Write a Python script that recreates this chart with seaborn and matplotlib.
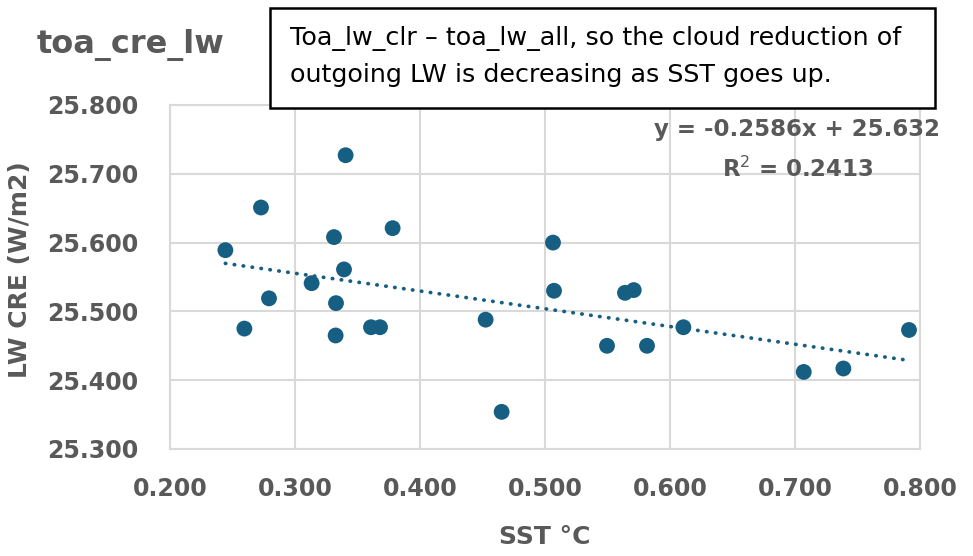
import numpy as np
import pandas as pd
import matplotlib
matplotlib.use("Agg")
import matplotlib.pyplot as plt
from matplotlib.patches import Rectangle
import seaborn as sns

# values
sst = [0.2443, 0.2595, 0.2728, 0.2792, 0.3133, 0.3312, 0.3325, 0.3328, 0.3392,
       0.3405, 0.3608, 0.3680, 0.3781, 0.4525, 0.4653, 0.5064, 0.5072, 0.5496,
       0.5640, 0.5710, 0.5816, 0.6107, 0.7070, 0.7387, 0.7912]
lw_cre = [25.589, 25.475, 25.651, 25.519, 25.541, 25.608, 25.465, 25.512, 25.561,
          25.727, 25.477, 25.477, 25.621, 25.488, 25.354, 25.600, 25.530, 25.450,
          25.527, 25.531, 25.450, 25.477, 25.412, 25.417, 25.473]
x_ticks = [0.2, 0.3, 0.4, 0.5, 0.6, 0.7, 0.8]
y_ticks = [25.3, 25.4, 25.5, 25.6, 25.7, 25.8]

df = pd.DataFrame({"sst": sst, "lw_cre": lw_cre})

sns.set_style("white")
plt.rcParams['font.family'] = ['DejaVu Sans']

gray = "#595959"
blue = "#175f82"

fig = plt.figure(figsize=(9.73, 5.56), dpi=100)
ax = fig.add_axes([170/973, 1 - 449/556, 750/973, 344/556])

sns.regplot(data=df, x="sst", y="lw_cre", ax=ax, ci=None,
            scatter_kws=dict(s=130, color=blue, edgecolor="none", alpha=1, zorder=3),
            line_kws=dict(color=blue, linestyle=(0, (0.1, 2.3)), linewidth=2.7,
                          dash_capstyle="round", zorder=2))

ax.set_xlim(0.2, 0.8)
ax.set_ylim(25.3, 25.8)
ax.set_xticks(x_ticks)
ax.set_yticks(y_ticks)
ax.set_xticklabels([f"{v:.3f}" for v in x_ticks])
ax.set_yticklabels([f"{v:.3f}" for v in y_ticks])
ax.tick_params(axis="both", labelsize=17, labelcolor=gray, length=0)
ax.tick_params(axis="y", pad=23)
ax.tick_params(axis="x", pad=20)
for lab in ax.get_xticklabels() + ax.get_yticklabels():
    lab.set_fontweight("bold")

ax.grid(True, color="#d9d9d9", linewidth=1.5)
ax.set_axisbelow(True)
for sp in ax.spines.values():
    sp.set_color("#d9d9d9")
    sp.set_linewidth(1.5)

ax.set_xlabel("SST °C", fontsize=18, fontweight="bold", color=gray)
ax.set_ylabel("LW CRE (W/m2)", fontsize=18, fontweight="bold", color=gray)
ax.xaxis.set_label_coords(0.5, -0.222)
ax.yaxis.set_label_coords(-0.184, 0.52)

# trendline equation
ax.text(0.7016, 25.7638, "y = -0.2586x + 25.632", ha="center", va="center",
        fontsize=16.5, fontweight="bold", color=gray)
ax.text(0.7024, 25.7072, "R$^2$ = 0.2413", ha="center", va="center",
        fontsize=16.5, fontweight="bold", color=gray)

# chart title
fig.text(37/973, 1 - 45/556, "toa_cre_lw", fontsize=23, fontweight="bold",
         color=gray, va="center", ha="left")

# annotation box
fig.patches.append(Rectangle((270/973, 1 - 108/556), 665/973, 100/556,
                             transform=fig.transFigure, facecolor="white",
                             edgecolor="black", linewidth=1.8, zorder=5))
fig.text(290/973, 1 - 45/556, "Toa_lw_clr – toa_lw_all, so the cloud reduction of",
         fontsize=18.3, color="black", va="baseline", ha="left", zorder=6)
fig.text(290/973, 1 - 82/556, "outgoing LW is decreasing as SST goes up.",
         fontsize=18.3, color="black", va="baseline", ha="left", zorder=6)

fig.savefig("out.png", dpi=100)
